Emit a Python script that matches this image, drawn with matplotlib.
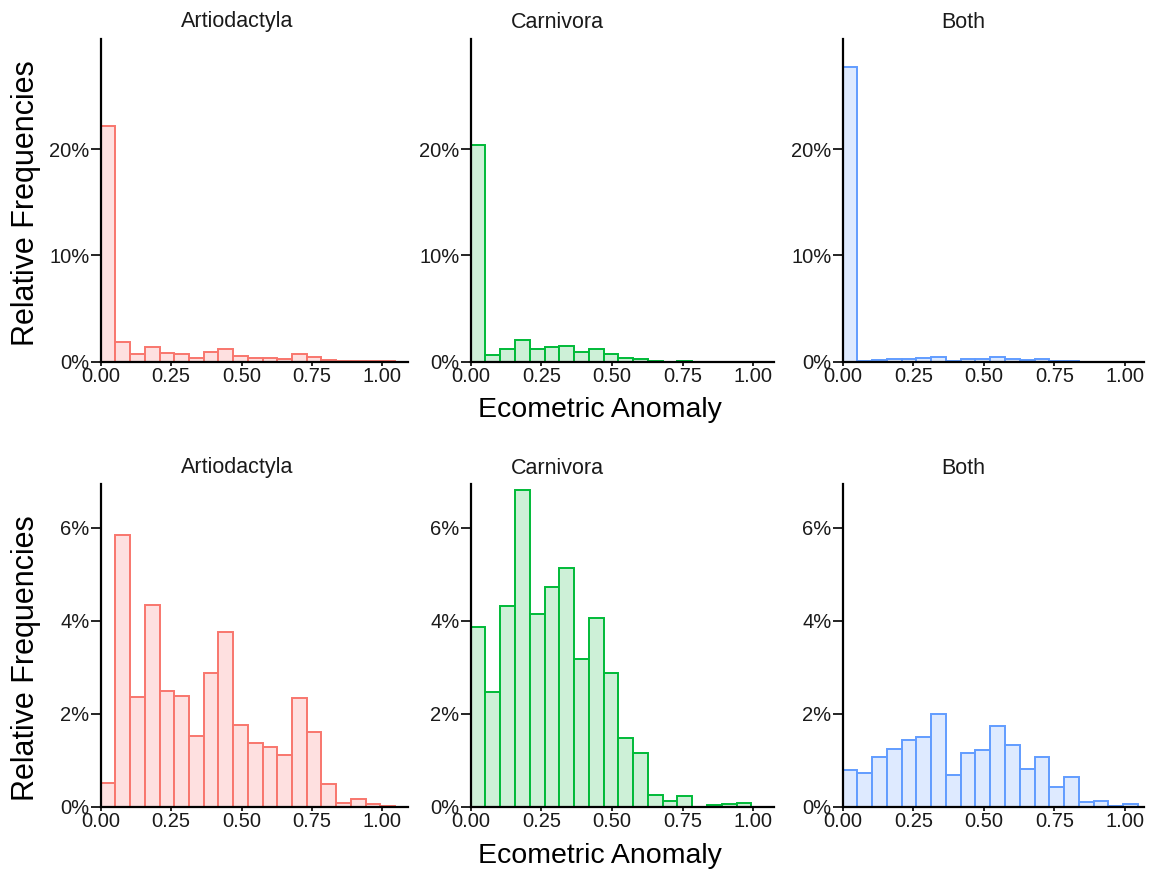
#!/usr/bin/env python3
"""
Histograms of ecometric anomaly by order (all sites vs. non-zero sites).
"""

import numpy as np
import matplotlib.pyplot as plt

plt.rcParams["font.family"] = ["Liberation Sans", "DejaVu Sans"]

# common bin edges for all panels (20 bins)
bin_edges = np.linspace(0.0, 1.045, 21)

groups = ["Artiodactyla", "Carnivora", "Both"]
line_colors = ["#F8766D", "#00BA38", "#619CFF"]
fill_colors = ["#FEE0E0", "#CDF0D7", "#DEEAFF"]

# top row: relative frequency (%) of all values
art_all = [22.2, 1.89, 0.69, 1.35, 0.79, 0.69, 0.31, 0.88, 1.16, 0.50,
           0.38, 0.35, 0.28, 0.69, 0.47, 0.16, 0.06, 0.06, 0.03, 0.03]
car_all = [20.4, 0.63, 1.23, 2.04, 1.16, 1.35, 1.51, 0.88, 1.16, 0.72,
           0.31, 0.22, 0.03, 0.01, 0.03, 0.0, 0.0, 0.0, 0.0, 0.0]
both_all = [27.7, 0.09, 0.19, 0.25, 0.28, 0.38, 0.44, 0.09, 0.25, 0.25,
            0.41, 0.25, 0.16, 0.22, 0.06, 0.09, 0.0, 0.0, 0.0, 0.0]

# bottom row: relative frequency (%) of non-zero values
art_nz = [0.52, 5.84, 2.35, 4.33, 2.49, 2.37, 1.53, 2.87, 3.76, 1.76,
          1.37, 1.29, 1.11, 2.34, 1.61, 0.49, 0.09, 0.16, 0.06, 0.02]
car_nz = [3.86, 2.47, 4.32, 6.80, 4.14, 4.72, 5.13, 3.18, 4.06, 2.87,
          1.48, 1.16, 0.26, 0.12, 0.24, 0.0, 0.04, 0.06, 0.09, 0.0]
both_nz = [0.78, 0.73, 1.07, 1.23, 1.43, 1.50, 1.99, 0.68, 1.15, 1.22,
           1.74, 1.33, 0.81, 1.07, 0.42, 0.64, 0.11, 0.13, 0.01, 0.05]

top_ticks = [0, 10, 20]
bottom_ticks = [0, 2, 4, 6]
x_ticks = [0.0, 0.25, 0.5, 0.75, 1.0]


def draw_panel(ax, values, line_color, fill_color, y_max, y_ticks, x_max):
    widths = np.diff(bin_edges)
    ax.bar(bin_edges[:-1], values, width=widths, align="edge",
           color=fill_color, edgecolor=line_color, linewidth=1.4)
    ax.set_xlim(0, x_max)
    ax.set_ylim(0, y_max)
    ax.set_xticks(x_ticks)
    ax.set_xticklabels([f"{t:.2f}" for t in x_ticks])
    ax.set_yticks(y_ticks)
    ax.set_yticklabels([f"{t}%" for t in y_ticks])
    for side in ["top", "right"]:
        ax.spines[side].set_visible(False)
    for side in ["left", "bottom"]:
        ax.spines[side].set_linewidth(1.6)
        ax.spines[side].set_color("black")
    ax.tick_params(axis="x", length=3, width=1.2, pad=1, labelsize=14.5,
                   labelcolor="#1a1a1a")
    ax.tick_params(axis="y", length=7, width=1.2, pad=1, labelsize=14.5,
                   labelcolor="#1a1a1a")


def main():
    W, H = 1151, 873
    fig = plt.figure(figsize=(W / 100, H / 100), dpi=100)

    col_left = [100.7, 470.7, 842.7]
    col_right = [408.0, 774.0, 1144.0]
    col_xmax = [1.091, 1.073, 1.067]
    rows = [(38.7, 361.7, 30.4, top_ticks, [art_all, car_all, both_all]),
            (484.3, 806.7, 6.93, bottom_ticks, [art_nz, car_nz, both_nz])]
    title_y = [22, 468]
    title_x = [237, 557, 963]
    ylabel_y = [203, 658]

    for r, (top_px, bot_px, y_max, y_ticks, series) in enumerate(rows):
        for c in range(3):
            ax = fig.add_axes([col_left[c] / W, 1 - bot_px / H,
                               (col_right[c] - col_left[c]) / W,
                               (bot_px - top_px) / H])
            draw_panel(ax, series[c], line_colors[c], fill_colors[c],
                       y_max, y_ticks, col_xmax[c])
            fig.text(title_x[c] / W, 1 - title_y[r] / H, groups[c],
                     ha="center", va="center", fontsize=15.5, color="#1a1a1a")

        # shared axis labels
        fig.text(26 / W, 1 - ylabel_y[r] / H, "Relative Frequencies",
                 rotation=90, ha="center", va="center", fontsize=22)
    fig.text(600 / W, 1 - 410 / H, "Ecometric Anomaly",
             ha="center", va="center", fontsize=20.5)
    fig.text(600 / W, 1 - 856 / H, "Ecometric Anomaly",
             ha="center", va="center", fontsize=20.5)

    fig.savefig("out.png", dpi=100)
    plt.close(fig)


if __name__ == "__main__":
    main()
